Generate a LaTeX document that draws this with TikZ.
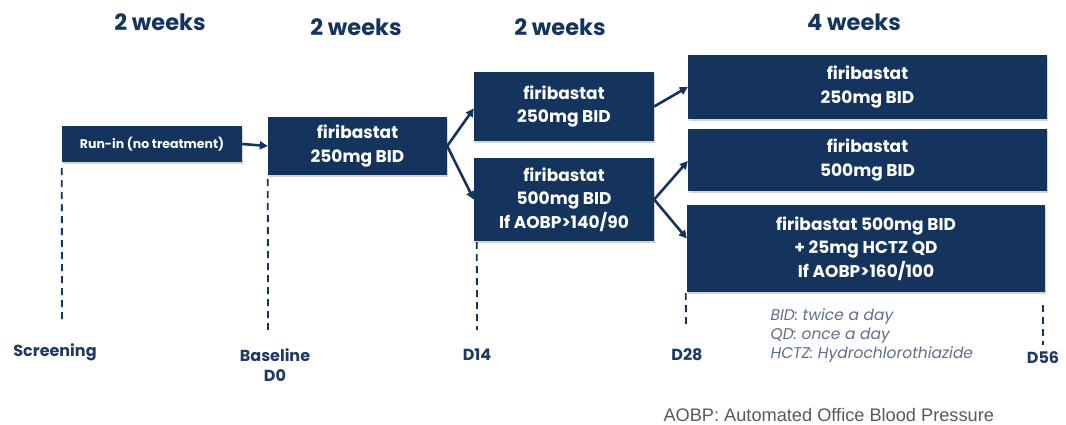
\documentclass[tikz,border=0pt]{standalone}
\usepackage{fontspec}
\setmainfont{Poppins}
\newfontfamily\arialf{Liberation Sans}
\usetikzlibrary{arrows.meta,shadows,calc}
\definecolor{navy}{HTML}{14345E}
\definecolor{labnavy}{HTML}{1F3864}
\definecolor{legend}{HTML}{5E6E85}
\definecolor{foot}{HTML}{595959}
\tikzset{
  box/.style={fill=navy, text=white, font=\bfseries\fontsize{17}{23.5}\selectfont, align=center, inner sep=0pt,
    drop shadow={shadow xshift=1pt, shadow yshift=-2pt, opacity=0.35, fill=gray}},
  conn/.style={draw=navy, line width=2.6pt, -{Triangle[length=8pt,width=8pt]}},
  dashline/.style={draw=navy, line width=1.8pt, dash pattern=on 7pt off 5pt},
  hdr/.style={text=navy, font=\bfseries\fontsize{22.5}{26}\selectfont},
  lab/.style={text=labnavy, font=\bfseries\fontsize{16}{20}\selectfont, align=center},
}
\begin{document}
\begin{tikzpicture}[x=1pt,y=-1pt]
\useasboundingbox (0,0) rectangle (1066,425);
% headers
\node[hdr] (h1) at (160,22) {2 weeks};
\node[hdr] (h2) at (356,27) {2 weeks};
\node[hdr] (h3) at (560,27) {2 weeks};
\node[hdr] (h4) at (854,22) {4 weeks};
% boxes
\node[box, minimum width=180pt, minimum height=36pt, font=\bfseries\fontsize{12.5}{15}\selectfont] (runin) at (152,144) {Run-in (no treatment)};
\node[box, minimum width=179pt, minimum height=58pt] (B) at (357.5,146) {firibastat\\250mg BID};
\node[box, minimum width=180pt, minimum height=69pt] (C1) at (564,106.5) {firibastat\\250mg BID};
\node[box, minimum width=180pt, minimum height=83pt] (C2) at (564,199.5) {firibastat\\500mg BID\\If AOBP>140/90};
\node[box, minimum width=359pt, minimum height=64pt] (D1) at (867.5,87) {firibastat\\250mg BID};
\node[box, minimum width=359pt, minimum height=62pt] (D2) at (867.5,160) {firibastat\\500mg BID};
\node[box, minimum width=358pt, minimum height=87pt] (D3) at (866,248.5) {firibastat 500mg BID\\+ 25mg HCTZ QD\\If AOBP>160/100};
% connectors
\draw[conn] (runin.east) -- (B.west);
\draw[conn] (B.east) -- ([yshift=-2pt]C1.west);
\draw[conn] (B.east) -- (C2.west);
\draw[conn] (C1.east) -- (D1.west);
\draw[conn] (C2.east) -- ([yshift=-1pt]D2.west);
\draw[conn] (C2.east) -- ([yshift=10pt]D3.west);
% timeline coordinates
\coordinate (e0) at (62,323);
\coordinate (e1) at (268,332);
\coordinate (e2) at (477,330);
\coordinate (e3) at (686,329);
\coordinate (s4) at (1043,305);
\coordinate (e4) at (1043,345);
\draw[dashline] ([yshift=-6pt]runin.south west) -- (e0);
\draw[dashline] ([yshift=-4pt]B.south west) -- (e1);
\draw[dashline] ([xshift=3pt,yshift=-1pt]C2.south west) -- (e2);
\draw[dashline] ([xshift=-1pt,yshift=-1pt]D3.south west) -- (e3);
\draw[dashline] (s4) -- (e4);
% labels
\node[lab] (l0) at (55,352) {Screening};
\node[lab] (l1) at (275,365) {Baseline\\D0};
\node[lab] (l2) at (477,355) {D14};
\node[lab] (l3) at (687,355) {D28};
\node[lab] (l4) at (1043,358) {D56};
% legend
\node[anchor=west, text=legend, font=\itshape\fontsize{15.5}{19}\selectfont, align=left] (leg) at (767,336) {BID: twice a day\\QD: once a day\\HCTZ: Hydrochlorothiazide};
\node[anchor=west, text=foot, font=\arialf\fontsize{18.2}{20}\selectfont] (fn) at (660,415) {AOBP: Automated Office Blood Pressure};
\end{tikzpicture}
\end{document}
